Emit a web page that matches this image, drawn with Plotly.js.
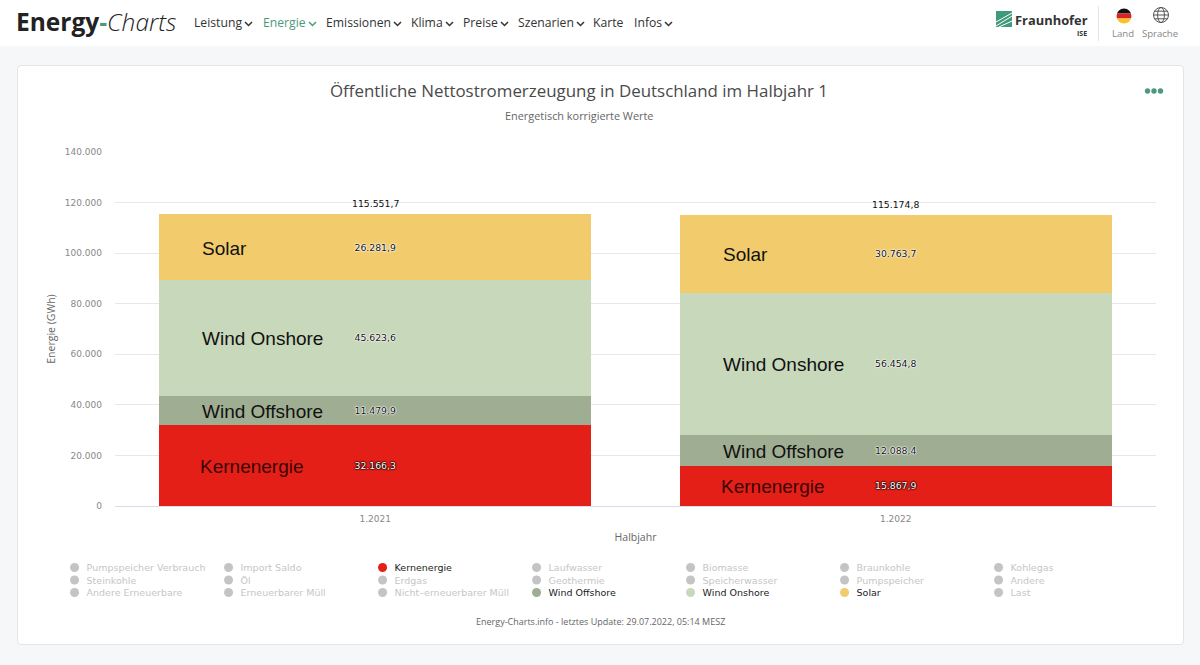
<!DOCTYPE html>
<html lang="de"><head><meta charset="utf-8">
<script src="https://cdn.plot.ly/plotly-3.0.1.min.js"></script>
<style>
html,body{margin:0;padding:0;width:1200px;height:665px;overflow:hidden;background:#f6f7f8;font-family:"Open Sans",sans-serif}
#head{position:absolute;left:0;top:0;width:1200px;height:46px;background:#fff}
#card{position:absolute;left:17px;top:65px;width:1165px;height:578px;background:#fff;border:1px solid #e3e5e6;border-radius:4px;box-sizing:content-box}
#chart{position:absolute;left:0;top:0;width:1200px;height:665px}
#brand{position:absolute;left:16px;top:4px;font-size:24.5px;line-height:36px;color:#222;white-space:nowrap}
#brand b{font-weight:700}#brand i{font-weight:300;font-style:italic;color:#222}#brand span{color:#4a9a7c;font-weight:700}
.nav{position:absolute;top:14px;font-size:12.2px;line-height:18px;color:#333;white-space:nowrap}
.nav.on{color:#4a9a7c}
.nav svg{margin-left:2px;vertical-align:0}
.small{position:absolute;top:27px;font-size:9.6px;line-height:13px;color:#888;transform:translateX(-50%)}
#frau{position:absolute;left:1015px;top:11px;font-size:12.9px;line-height:18px;font-weight:700;color:#333}
#ise{position:absolute;left:1077px;top:29px;font-size:7px;line-height:9px;font-weight:700;color:#333}
#sep{position:absolute;left:1098px;top:6px;width:1px;height:35px;background:#e5e5e5}
.abs{position:absolute}
</style></head><body>
<div id="head"></div>
<div id="card"></div>
<div id="brand"><b>Energy</b><span>-</span><i>Charts</i></div>
<div id="navs"></div>
<svg class="abs" style="left:996px;top:11px" width="16" height="16" viewBox="0 0 16 16"><rect width="16" height="16" fill="#3f9b7c"/><path d="M0 15 L16 5 M0 11 L16 2 M3 16 L16 10" stroke="#fff" stroke-width="1" fill="none"/></svg>
<div id="frau">Fraunhofer</div><div id="ise">ISE</div><div id="sep"></div>
<svg class="abs" style="left:1115px;top:7px" width="18" height="18" viewBox="0 0 18 18"><defs><clipPath id="c"><circle cx="9" cy="9" r="7.5"/></clipPath></defs><g clip-path="url(#c)"><rect width="18" height="6.5" fill="#111"/><rect y="6.5" width="18" height="5" fill="#d8232a"/><rect y="11.5" width="18" height="6.5" fill="#f7c51e"/></g></svg>
<svg class="abs" style="left:1152px;top:6px" width="18" height="18" viewBox="0 0 18 18" fill="none" stroke="#555" stroke-width="1"><circle cx="9" cy="9" r="7.5"/><ellipse cx="9" cy="9" rx="3.4" ry="7.5"/><path d="M1.5 9H16.5M2.6 5.2H15.4M2.6 12.8H15.4"/></svg>
<div class="small" style="left:1123px">Land</div><div class="small" style="left:1160px">Sprache</div>
<svg class="abs" style="left:1144px;top:87px" width="20" height="8"><circle cx="3.5" cy="4" r="2.7" fill="#4a9a7c"/><circle cx="10" cy="4" r="2.7" fill="#4a9a7c"/><circle cx="16.5" cy="4" r="2.7" fill="#4a9a7c"/></svg>
<div id="chart"></div>
<script>
var navItems = ["Leistung","Energie","Emissionen","Klima","Preise","Szenarien","Karte","Infos"];
var navLeft = [194,263,326,411,463,518,593,634];
var navChevron = [1,1,1,1,1,1,0,1];

var periods = ["1.2021","1.2022"];
var kernenergie = [32166.3,15867.9];
var windOffshore = [11479.9,12088.4];
var windOnshore = [45623.6,56454.8];
var solar = [26281.9,30763.7];
var totals = [115551.7,115174.8];

var legendRows = [
 ["Pumpspeicher Verbrauch","Import Saldo","Kernenergie","Laufwasser","Biomasse","Braunkohle","Kohlegas"],
 ["Steinkohle","Öl","Erdgas","Geothermie","Speicherwasser","Pumpspeicher","Andere"],
 ["Andere Erneuerbare","Erneuerbarer Müll","Nicht–erneuerbarer Müll","Wind Offshore","Wind Onshore","Solar","Last"]
];
var colors = {"Kernenergie":"#e41f18","Wind Offshore":"#9fae92","Wind Onshore":"#c8d8bb","Solar":"#f2cc6c"};
var stack = [["Kernenergie",kernenergie],["Wind Offshore",windOffshore],["Wind Onshore",windOnshore],["Solar",solar]];

navItems.forEach(function(n,i){
  var d=document.createElement('div');d.className='nav'+(n==="Energie"?' on':'');d.style.left=navLeft[i]+'px';d.textContent=n;
  if(navChevron[i]){d.insertAdjacentHTML('beforeend','<svg width="9" height="6" viewBox="0 0 9 6" fill="none" stroke="currentColor" stroke-width="1.5"><path d="M1 1L4.5 4.5L8 1"/></svg>');}
  document.getElementById('navs').appendChild(d);
});

var L=114.5,R=1156.5,T=152,B=506,W=1200,H=665;
var font="'Open Sans',sans-serif", sans="'DejaVu Sans',sans-serif";
var traces=[];
stack.forEach(function(s){
  var red=s[0]==='Kernenergie';
  traces.push({type:'bar',name:s[0],x:periods,y:s[1],marker:{color:colors[s[0]],line:{width:0}},showlegend:false,
    texttemplate:'%{y:,.1f}',textposition:'inside',insidetextanchor:'middle',textangle:0,constraintext:'none',
    insidetextfont:{family:sans,size:9.3,color:red?'#fff':'#111',
      shadow:red?'0 0 1px #000, 0 0 1px #000, 0 0 2px #000, 0 0 2px #000':'0 0 1px #fff, 0 0 1px #fff, 0 0 2px #fff, 0 0 2px #fff'},
    hovertemplate:'%{x}<br>'+s[0]+': %{y:,.1f} GWh<extra></extra>'});
});
legendRows.forEach(function(row,r){
  row.forEach(function(n){
    var c=colors[n];
    traces.push({type:'scatter',mode:'markers',x:[null],y:[null],legend:r===0?'legend':'legend'+(r+1),
      name:'<span style="color:'+(c?'#222':'#c6c6c6')+'">'+n+'</span>',
      marker:{size:9,color:c||'#c4c4c4'},hoverinfo:'skip'});
  });
});

function legendCfg(top){return {orientation:'h',traceorder:'normal',x:(46-L)/(R-L),xanchor:'left',y:(B-top)/(B-T),yanchor:'top',
  entrywidth:109,entrywidthmode:'pixels',itemclick:false,itemdoubleclick:false,bgcolor:'rgba(0,0,0,0)',
  font:{family:sans,size:9.5,color:'#222'}};}

var annos=[];
periods.forEach(function(p,i){
  var base=0;
  stack.forEach(function(s){
    var v=s[1][i], kern=s[0]==='Kernenergie';
    annos.push({x:i,y:base+v/2,xref:'x',yref:'y',text:s[0],showarrow:false,xanchor:'left',yanchor:'middle',xshift:kern?-177:-175,yshift:-1,
      font:{family:"'Liberation Sans',Arial,sans-serif",size:19,color:kern?'#3a0605':'#111'}});
    base+=v;
  });
  annos.push({x:i,y:totals[i],xref:'x',yref:'y',text:totals[i].toLocaleString('de-DE',{minimumFractionDigits:1,maximumFractionDigits:1}),
    showarrow:false,xanchor:'center',yanchor:'bottom',yshift:3,font:{family:sans,size:9.3,color:'#111'}});
});
annos.push({xref:'paper',yref:'paper',x:(600-L)/(R-L),y:(B-621)/(B-T),text:'Energy-Charts.info - letztes Update: 29.07.2022, 05:14 MESZ',showarrow:false,xanchor:'center',yanchor:'middle',
  font:{family:font,size:9,color:'#666'}});
annos.push({xref:'paper',yref:'paper',x:(579-L)/(R-L),y:(B-115.5)/(B-T),text:'Energetisch korrigierte Werte',showarrow:false,xanchor:'center',yanchor:'middle',
  font:{family:font,size:10.9,color:'#666'}});

var layout={width:W,height:H,margin:{l:L,r:W-R,t:T,b:H-B,pad:0,autoexpand:false},
  paper_bgcolor:'rgba(0,0,0,0)',plot_bgcolor:'rgba(0,0,0,0)',barmode:'stack',bargap:0.17,separators:',.',showlegend:true,
  title:{text:'Öffentliche Nettostromerzeugung in Deutschland im Halbjahr 1',x:579/W,xanchor:'center',xref:'container',y:1-91/H,yanchor:'middle',
    font:{family:font,size:16.9,color:'#4a4a4a'}},
  xaxis:{type:'category',categoryorder:'array',categoryarray:periods,showgrid:false,zeroline:false,showline:false,ticks:'',
    tickfont:{family:sans,size:9,color:'#888'},ticklabelstandoff:6,
    title:{text:'Halbjahr',font:{family:font,size:10.5,color:'#666'},standoff:10}},
  yaxis:{range:[0,140000],tick0:0,dtick:20000,tickformat:',d',showgrid:true,gridcolor:'#e8e8e8',gridwidth:1,zeroline:true,zerolinecolor:'#d5dcea',zerolinewidth:1,showline:false,
    ticks:'',tickfont:{family:sans,size:9,color:'#888'},ticklabelstandoff:12,
    title:{text:'Energie (GWh)',font:{family:font,size:10.5,color:'#666'},standoff:7}},
  legend:legendCfg(553),legend2:legendCfg(565.5),legend3:legendCfg(578),
  annotations:annos};
Plotly.newPlot('chart',traces,layout,{displayModeBar:false,responsive:false}).then(function(gd){
  document.querySelectorAll('#chart .legendsymbols').forEach(function(g){g.setAttribute('transform','translate(8,0)');});
});
</script>
</body></html>
